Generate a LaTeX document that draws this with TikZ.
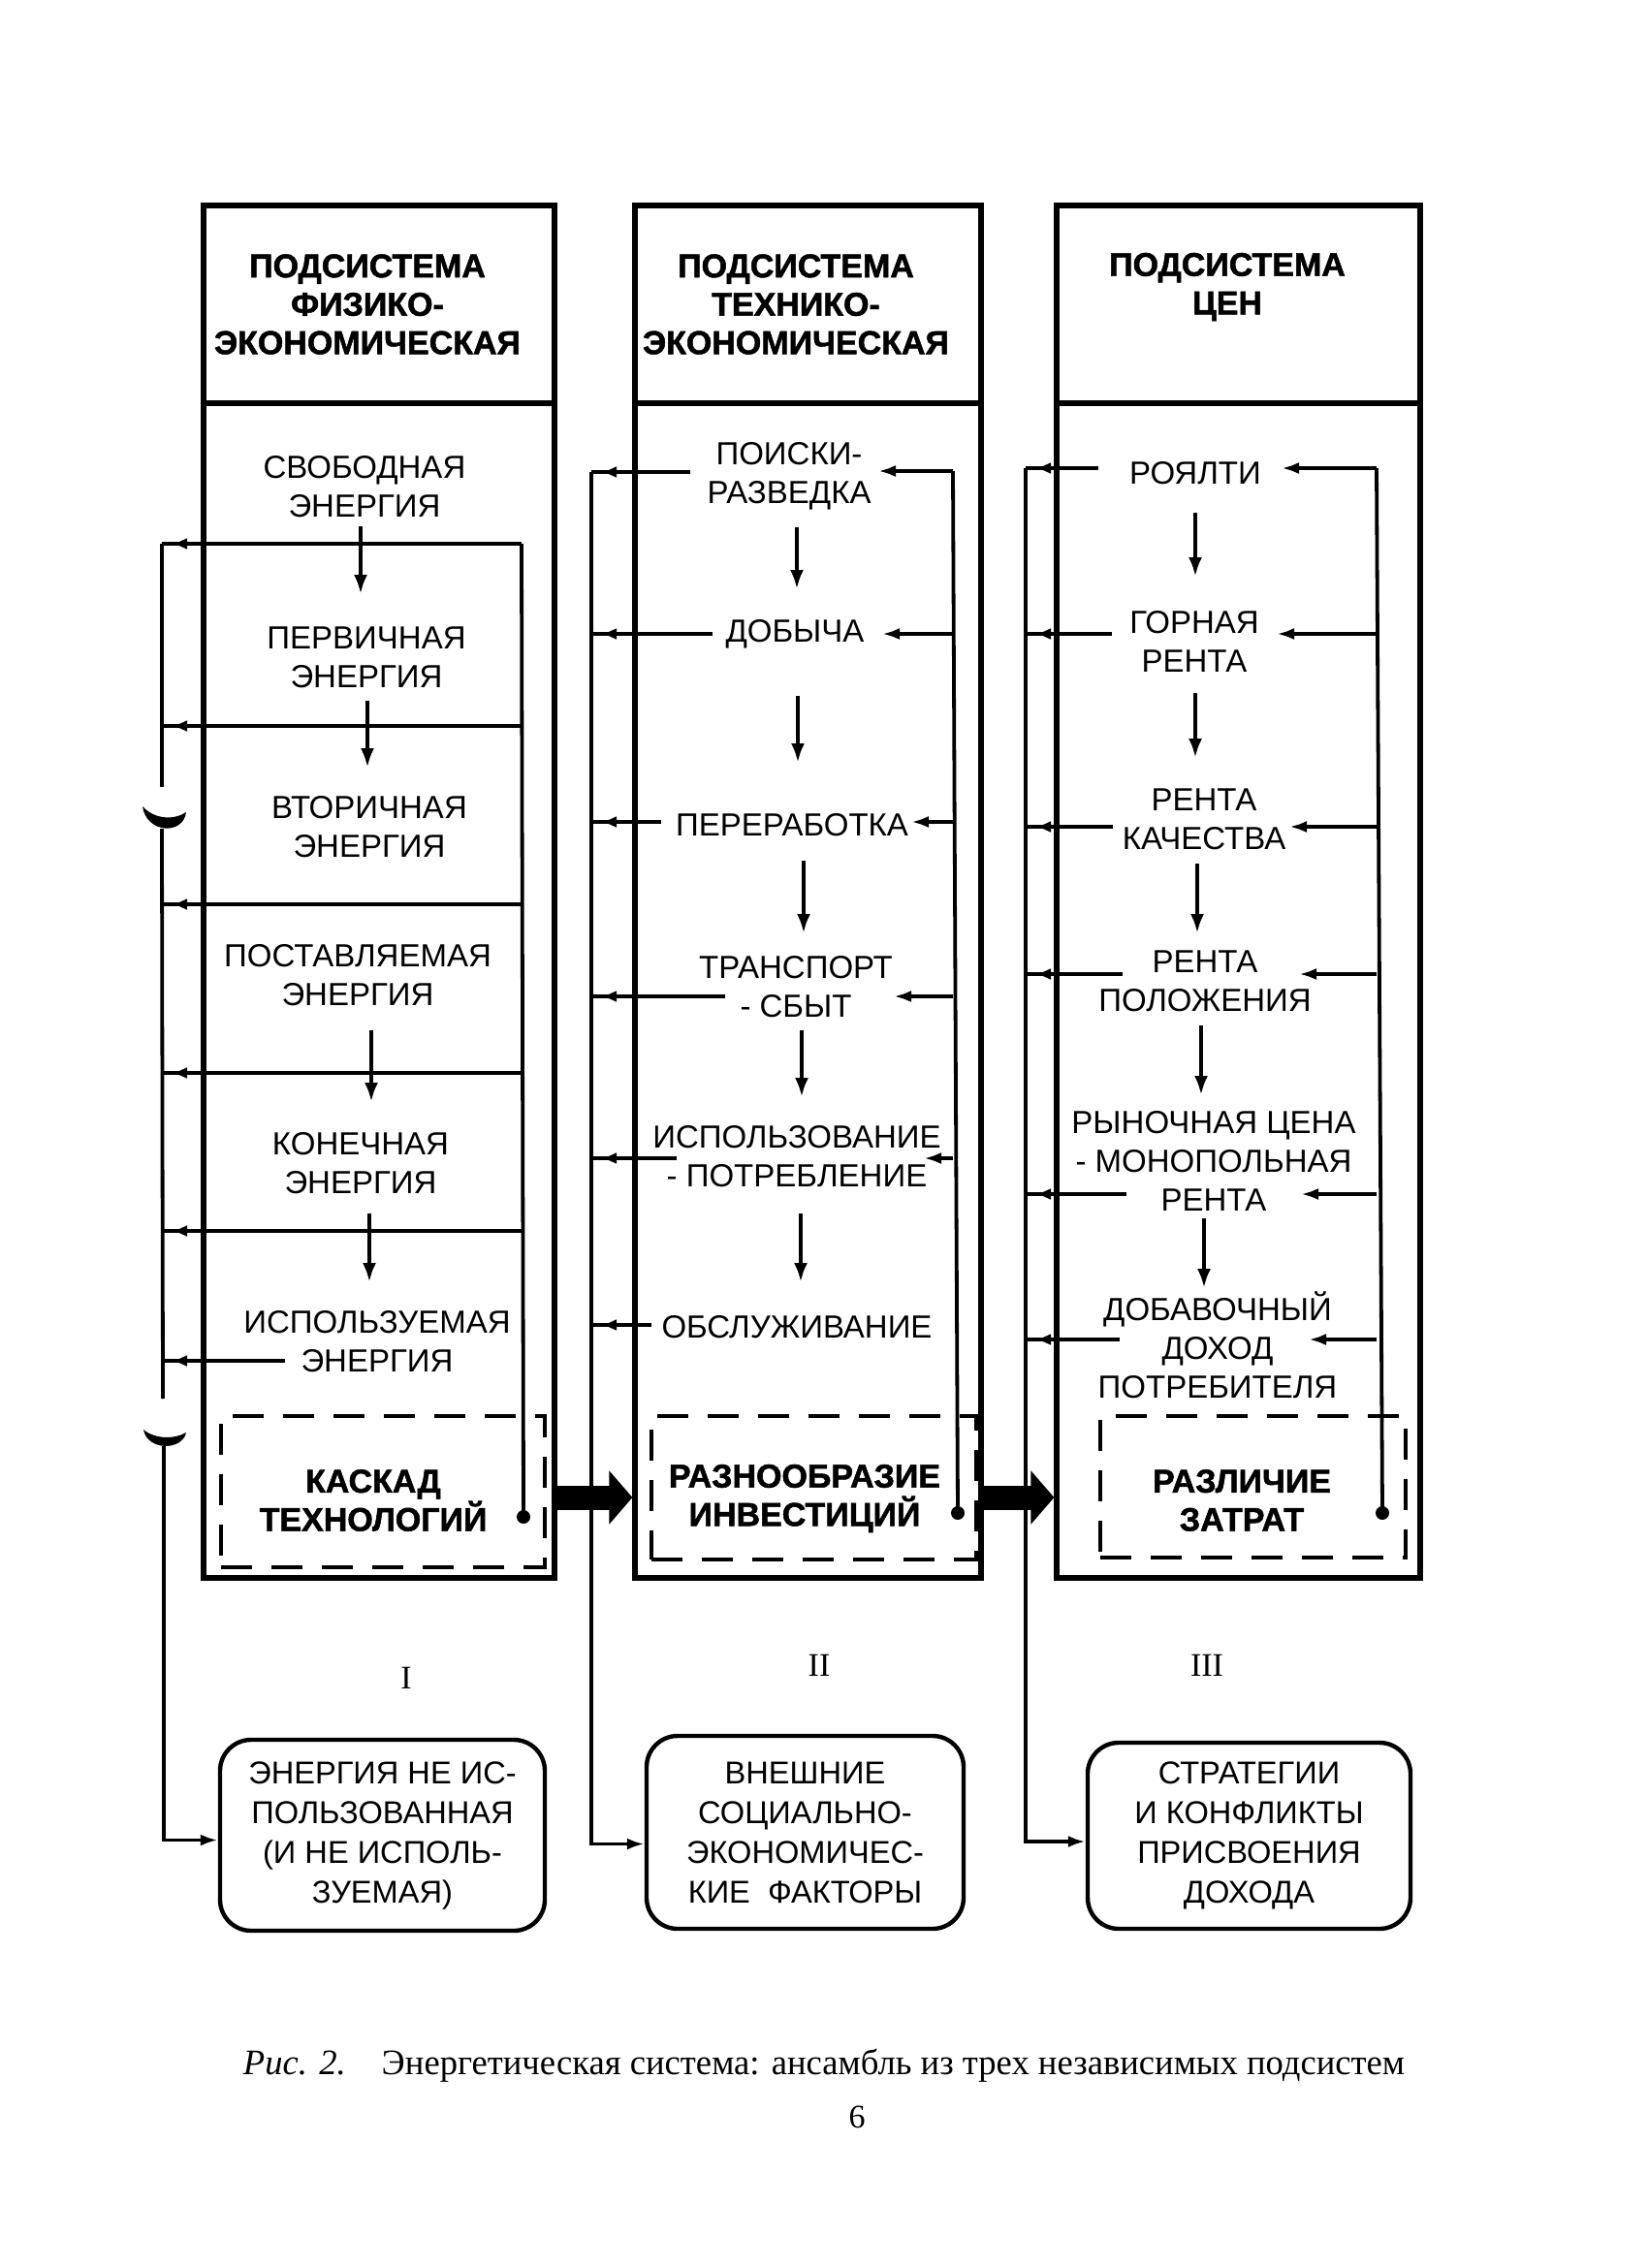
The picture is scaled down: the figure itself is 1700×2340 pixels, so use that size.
\documentclass[tikz,border=0pt]{standalone}
\usepackage{fontspec}
\setmainfont{Liberation Serif}
\newfontfamily\sansf{Liberation Sans}
\newfontfamily\hdrf[FakeBold=1.5]{Liberation Sans Bold}
\newfontfamily\capf[FakeStretch=0.99]{Liberation Serif}
\usetikzlibrary{arrows.meta,decorations.markings}
\begin{document}
\begin{tikzpicture}[x=0.5pt,y=-0.5pt,
  colbox/.style={draw, line width=2.6pt, inner sep=0},
  dbox/.style={draw, line width=2pt, dash pattern=on 16pt off 10pt, inner sep=0},
  rbox/.style={draw, line width=2.2pt, rounded corners=16pt, inner sep=0, align=center, font=\sansf\fontsize{16.3}{20.5}\selectfont},
  hdr/.style={align=center, inner sep=0, font=\hdrf\fontsize{17}{19.8}\selectfont},
  lbl/.style={align=center, inner sep=0, font=\sansf\fontsize{16.5}{20}\selectfont},
  num/.style={inner sep=0, font=\fontsize{17}{20}\selectfont},
  wire/.style={line width=1.9pt},
  dnarrow/.style={line width=2pt, -{Latex[length=10pt,width=7pt]}},
  tipin/.style={line width=1.9pt, -{Latex[length=9pt,width=6pt]}},
  tipnear/.style={line width=1.9pt, postaction={decorate}, decoration={markings, mark=at position -5pt with {\arrow{Latex[length=8pt,width=6pt]}}}},
  bigarrow/.style={line width=12.5pt, -{Triangle[length=12pt,width=27pt]}},
  jdot/.style={circle, fill, inner sep=0, minimum size=7pt},
]
\useasboundingbox (0,0) rectangle (1700,2340);
\fill[white] (0,0) rectangle (1700,2340);

% column frames
\node[colbox, minimum width=181pt, minimum height=708pt] (c1) at (391,920) {};
\node[colbox, minimum width=178.5pt, minimum height=708pt] (c2) at (833.5,920) {};
\node[colbox, minimum width=187.5pt, minimum height=708pt] (c3) at (1277.5,920) {};
\coordinate (hy) at (0,416);
\draw[line width=2.6pt] (c1.west |- hy) -- (c1.east |- hy);
\draw[line width=2.6pt] (c2.west |- hy) -- (c2.east |- hy);
\draw[line width=2.6pt] (c3.west |- hy) -- (c3.east |- hy);

% headers
\node[hdr] (h1) at (379,314) {ПОДСИСТЕМА\\ФИЗИКО-\\ЭКОНОМИЧЕСКАЯ};
\node[hdr] (h2) at (821,314) {ПОДСИСТЕМА\\ТЕХНИКО-\\ЭКОНОМИЧЕСКАЯ};
\node[hdr] (h3) at (1266,296) {ПОДСИСТЕМА\\ЦЕН};

% dashed boxes
\node[dbox, minimum width=167pt, minimum height=78pt] (d1) at (395,1539) {};
\node[dbox, minimum width=167.5pt, minimum height=74pt] (d2) at (839.5,1535) {};
\node[dbox, minimum width=157.5pt, minimum height=73pt] (d3) at (1292.5,1534) {};
\node[hdr] (k1) at (385,1548) {КАСКАД\\ТЕХНОЛОГИЙ};
\node[hdr] (k2) at (830,1546) {РАЗНООБРАЗИЕ\\ИНВЕСТИЦИЙ};
\node[hdr] (k3) at (1281,1548) {РАЗЛИЧИЕ\\ЗАТРАТ};

% column 1 texts
\node[lbl] (e1) at (376,502) {СВОБОДНАЯ\\ЭНЕРГИЯ};
\node[lbl] (e2) at (378,678) {ПЕРВИЧНАЯ\\ЭНЕРГИЯ};
\node[lbl] (e3) at (381,853) {ВТОРИЧНАЯ\\ЭНЕРГИЯ};
\node[lbl] (e4) at (369,1006) {ПОСТАВЛЯЕМАЯ\\ЭНЕРГИЯ};
\node[lbl] (e5) at (372,1200) {КОНЕЧНАЯ\\ЭНЕРГИЯ};
\node[lbl] (e6) at (389,1364) {ИСПОЛЬЗУЕМАЯ};
\node[lbl] (e6b) at (389,1404) {ЭНЕРГИЯ};

% column 2 texts
\node[lbl] (t1) at (814,491) {ПОИСКИ-\\РАЗВЕДКА};
\node[lbl] (t2) at (820,654) {ДОБЫЧА};
\node[lbl] (t3) at (817,851) {ПЕРЕРАБОТКА};
\node[lbl] (t4) at (821,1018) {ТРАНСПОРТ\\- СБЫТ};
\node[lbl] (t5) at (822,1193) {ИСПОЛЬЗОВАНИЕ\\- ПОТРЕБЛЕНИЕ};
\node[lbl] (t6) at (822,1369) {ОБСЛУЖИВАНИЕ};

% column 3 texts
\node[lbl] (p1) at (1233,488) {РОЯЛТИ};
\node[lbl] (p2) at (1232,662) {ГОРНАЯ\\РЕНТА};
\node[lbl] (p3) at (1242,845) {РЕНТА\\КАЧЕСТВА};
\node[lbl] (p4) at (1243,1012) {РЕНТА\\ПОЛОЖЕНИЯ};
\node[lbl] (p5) at (1252,1198) {РЫНОЧНАЯ ЦЕНА\\- МОНОПОЛЬНАЯ\\РЕНТА};
\node[lbl] (p6) at (1256,1388) {ДОБАВОЧНЫЙ\\ДОХОД\\ПОТРЕБИТЕЛЯ};

% bottom boxes
\node[rbox, minimum width=167.5pt, minimum height=98.5pt] (b1) at (394.5,1893.5) {ЭНЕРГИЯ НЕ ИС-\\ПОЛЬЗОВАННАЯ\\(И НЕ ИСПОЛЬ-\\ЗУЕМАЯ)};
\node[rbox, minimum width=163.5pt, minimum height=99.5pt] (b2) at (830.5,1890.5) {ВНЕШНИЕ\\СОЦИАЛЬНО-\\ЭКОНОМИЧЕС-\\КИЕ\ \ ФАКТОРЫ};
\node[rbox, minimum width=166.5pt, minimum height=96pt] (b3) at (1288.5,1894) {СТРАТЕГИИ\\И КОНФЛИКТЫ\\ПРИСВОЕНИЯ\\ДОХОДА};

% numerals, caption
\node[num] (n1) at (419,1731) {I};
\node[num] (n2) at (845,1718) {II};
\node[num] (n3) at (1245,1718) {III};
\node[inner sep=0, font=\capf\fontsize{18.5}{22}\selectfont] (cap) at (850,2131) {\textit{Рис. 2.}\quad Энергетическая система: ансамбль из трех независимых подсистем};
\node[num] (pg) at (884,2184) {6};

% down arrows
\foreach \x/\a/\b [count=\i] in {372/543/613, 379/723/792, 383/1063/1137, 381/1252/1323,
  822/544/608, 823/718/787, 829/888/963, 827/1063/1132, 826/1252/1323,
  1233/529/595, 1233/715/782, 1235/891/963, 1239/1058/1130, 1242/1257/1329}
  {\coordinate (da\i) at (\x,\a); \coordinate (db\i) at (\x,\b); \draw[dnarrow] (da\i) -- (db\i);}

% ---- column 1 feedback
\coordinate (L1top) at (167,561);
\coordinate (R1top) at (538,561);
\node[jdot] (o1) at (540,1565) {};
\draw[wire] (o1.center) -- (R1top);
\foreach \y [count=\i] in {561,749,933,1107,1270}
  {\coordinate (r1\i) at (538,\y); \coordinate (l1\i) at (167,\y); \draw[tipnear] (r1\i) -- (l1\i);}
\draw[tipnear] ([xshift=-8pt]e6b.west) -- (e6b.west -| L1top);
\coordinate (L1a) at (167,812);
\coordinate (L1b) at (167,855);
\coordinate (L1c) at (168,1443);
\coordinate (L1d) at (169,1492);
\draw[wire] (L1top) -- (L1a);
\draw[wire] (L1b) -- (L1c);
\draw[tipin] (L1d) |- ([yshift=-2.5pt]b1.west);
\fill (147,832) .. controls (151,860) and (189,862) .. (192,838) .. controls (180,846) and (160,846) .. cycle;
\fill (148,1475) .. controls (152,1497) and (188,1497) .. (192,1478) .. controls (180,1485) and (160,1485) .. cycle;

% ---- column 2 feedback
\coordinate (L2top) at (610,487);
\coordinate (R2top) at (983,486);
\node[jdot] (o2) at (988,1561) {};
\draw[wire] (o2.center) -- (R2top);
\draw[tipin] (L2top) |- ([yshift=-6pt]b2.west);
\foreach \y/\xl [count=\i] in {487/712, 654/735, 848/682, 1028/748, 1195/698, 1367/672}
  {\coordinate (tl2\i) at (\xl,\y); \coordinate (bl2\i) at (610,\y); \draw[tipnear] (tl2\i) -- (bl2\i);}
\foreach \y/\xr [count=\i] in {486/906, 654/910, 848/940, 1028/922, 1195/953}
  {\coordinate (br2\i) at (983,\y); \coordinate (tr2\i) at (\xr,\y); \draw[tipin] (br2\i) -- (tr2\i);}

% ---- column 3 feedback
\coordinate (L3top) at (1058,483);
\coordinate (R3top) at (1420,483);
\node[jdot] (o3) at (1426,1561) {};
\draw[wire] (o3.center) -- (R3top);
\draw[tipin] (L3top) |- ([yshift=-3pt]b3.west);
\foreach \y/\xl [count=\i] in {483/1133, 654/1147, 853/1148, 1005/1158, 1232/1162, 1382/1155}
  {\coordinate (tl3\i) at (\xl,\y); \coordinate (bl3\i) at (1058,\y); \draw[tipnear] (tl3\i) -- (bl3\i);}
\foreach \y/\xr [count=\i] in {483/1322, 654/1317, 853/1330, 1005/1340, 1232/1342, 1382/1350}
  {\coordinate (br3\i) at (1420,\y); \coordinate (tr3\i) at (\xr,\y); \draw[tipin] (br3\i) -- (tr3\i);}

% thick arrows between subsystems
\coordinate (ay) at (0,1545);
\draw[bigarrow] (c1.east |- ay) -- (c2.west |- ay);
\draw[bigarrow] (c2.east |- ay) -- (c3.west |- ay);
\end{tikzpicture}
\end{document}
